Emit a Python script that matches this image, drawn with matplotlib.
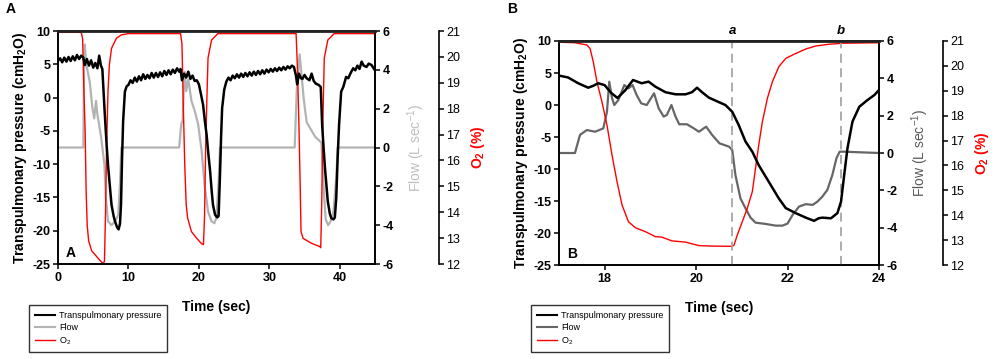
#!/usr/bin/env python3
"""Transpulmonary pressure, flow and O2 traces (panels A and B)."""

import matplotlib
matplotlib.use("Agg")
import matplotlib.pyplot as plt
from matplotlib.lines import Line2D

plt.rcParams["font.family"] = ["Liberation Sans", "DejaVu Sans"]
plt.rcParams["mathtext.fontset"] = "custom"
plt.rcParams["mathtext.rm"] = "Liberation Sans"
plt.rcParams["mathtext.bf"] = "Liberation Sans:bold"
plt.rcParams["mathtext.it"] = "Liberation Sans:italic"
plt.rcParams["axes.unicode_minus"] = False

# ---- Panel A data (time in sec) ----
pa_time = [0.0, 0.3, 0.6, 0.9, 1.2, 1.5, 1.8, 2.1, 2.4, 2.7, 3.0, 3.3, 3.6, 3.8,
           4.1, 4.4, 4.7, 5.0, 5.3, 5.6, 5.85, 6.1, 6.3, 6.6, 6.9, 7.1, 7.4, 7.6,
           7.9, 8.1, 8.4, 8.6, 8.8, 8.95, 9.1, 9.25, 9.5, 9.75, 10.0, 10.3, 10.6,
           10.9, 11.2, 11.5, 11.8, 12.1, 12.4, 12.7, 13.0, 13.3, 13.6, 13.9, 14.2,
           14.5, 14.8, 15.1, 15.4, 15.7, 16.0, 16.3, 16.6, 16.9, 17.2, 17.4, 17.6,
           17.9, 18.2, 18.5, 18.8, 19.1, 19.4, 19.7, 20.0, 20.3, 20.6, 20.85, 21.1,
           21.35, 21.6, 21.8, 22.0, 22.3, 22.6, 22.8, 23.0, 23.15, 23.3, 23.6, 23.9,
           24.2, 24.5, 24.8, 25.1, 25.4, 25.7, 26.0, 26.3, 26.6, 26.9, 27.2, 27.5,
           27.8, 28.1, 28.4, 28.7, 29.0, 29.3, 29.6, 29.9, 30.2, 30.5, 30.8, 31.1,
           31.4, 31.7, 32.0, 32.3, 32.6, 32.9, 33.2, 33.5, 33.8, 33.95, 34.2, 34.5,
           34.7, 35.0, 35.3, 35.7, 36.0, 36.3, 36.6, 37.0, 37.3, 37.5, 37.7, 37.9,
           38.1, 38.3, 38.6, 38.8, 39.1, 39.3, 39.5, 39.7, 39.9, 40.2, 40.5, 40.9,
           41.2, 41.5, 41.9, 42.2, 42.5, 42.8, 43.1, 43.4, 43.8, 44.1, 44.5, 44.8,
           45.0]
pa_pressure = [5.5, 5.9, 5.3, 6.0, 5.4, 6.1, 5.5, 6.2, 5.6, 6.4, 5.8, 6.3, 6.0, 4.9,
               5.8, 4.8, 5.6, 4.5, 5.2, 4.4, 6.3, 4.8, 4.3, -1.6, -7.0, -10.1, -13.8,
               -16.1, -17.8, -18.6, -19.5, -19.8, -19.0, -16.0, -9.0, -3.5, 0.9, 1.7,
               1.9, 2.6, 2.2, 3.0, 2.4, 3.2, 2.6, 3.5, 2.8, 3.4, 2.9, 3.7, 3.0, 3.7,
               3.1, 3.8, 3.2, 4.0, 3.4, 4.1, 3.5, 4.2, 3.7, 4.4, 3.9, 4.3, 2.6, 3.6,
               3.0, 3.9, 2.8, 3.3, 2.5, 2.6, 2.0, 0.5, -1.1, -3.5, -5.6, -8.5, -11.1,
               -13.8, -16.1, -17.6, -18.0, -17.8, -11.6, -6.0, -1.6, 1.2, 2.4, 3.0,
               2.6, 3.3, 2.9, 3.5, 3.0, 3.6, 3.1, 3.7, 3.2, 3.8, 3.3, 3.9, 3.4, 4.0,
               3.5, 4.1, 3.6, 4.2, 3.8, 4.3, 3.9, 4.4, 4.0, 4.5, 4.1, 4.6, 4.2, 4.7,
               4.4, 4.8, 4.6, 3.2, 2.0, 3.6, 2.9, 2.8, 3.4, 2.9, 2.6, 3.6, 2.5, 2.1,
               1.9, 1.6, -4.1, -7.5, -10.6, -13.2, -15.6, -17.5, -18.1, -18.3, -18.0,
               -15.1, -9.0, -4.1, 0.9, 1.6, 3.1, 2.9, 3.6, 4.4, 4.1, 4.8, 4.3, 5.4,
               4.8, 4.6, 5.1, 4.9, 4.4, 4.1]

fa_time = [0.0, 3.6, 3.7, 3.8, 4.0, 4.5, 4.9, 5.15, 5.4, 5.6, 6.1, 6.6, 6.8, 7.1,
           7.6, 8.1, 8.55, 8.8, 9.0, 17.2, 17.5, 17.7, 17.9, 18.0, 18.2, 18.5, 18.95,
           19.4, 19.9, 20.4, 20.8, 21.3, 21.8, 22.2, 22.5, 22.8, 23.0, 33.6, 33.9,
           34.3, 34.9, 35.3, 36.5, 37.4, 37.7, 38.0, 38.35, 38.7, 39.1, 39.5, 39.7,
           45.0]
fa_flow = [0.0, 0.0, 4.0, 5.3, 4.3, 3.4, 2.0, 1.5, 2.4, 1.7, 0.6, -0.9, -2.6, -3.8,
           -4.0, -3.8, -3.5, -1.9, 0.0, 0.0, 1.2, 1.4, 3.4, 3.9, 2.9, 3.5, 2.4, 1.9,
           1.2, -0.2, -1.9, -3.3, -3.8, -3.9, -3.6, -1.8, 0.0, 0.0, 3.0, 4.8, 2.45,
           1.3, 0.56, 0.25, -2.0, -3.7, -4.0, -3.8, -3.3, -1.6, 0.0, 0.0]

oa_time = [0.0, 3.3, 3.5, 3.7, 3.85, 4.0, 4.15, 4.35, 4.8, 5.3, 5.7, 6.1, 6.4, 6.6,
           6.75, 6.9, 7.1, 7.3, 7.6, 8.3, 9.0, 10.0, 17.4, 17.6, 17.8, 18.0, 18.2,
           18.4, 18.95, 19.7, 20.4, 20.65, 20.8, 20.95, 21.1, 21.3, 21.8, 22.7, 33.8,
           34.0, 34.2, 34.4, 34.5, 34.8, 36.0, 37.1, 37.3, 37.45, 37.6, 37.8, 38.3,
           39.2, 45.0]
oa_o2 = [20.95, 20.95, 20.7, 18.5, 17.2, 14.8, 13.5, 12.9, 12.5, 12.35, 12.22, 12.1,
         12.02, 12.1, 14.0, 16.5, 18.66, 19.7, 20.33, 20.72, 20.85, 20.9, 20.9, 20.5,
         18.0, 15.8, 14.3, 13.78, 13.25, 12.99, 12.78, 12.75, 13.8, 16.3, 18.0, 19.96,
         20.65, 20.9, 20.9, 19.5, 17.4, 14.8, 13.25, 12.99, 12.8, 12.68, 12.63, 14.5,
         17.5, 19.96, 20.65, 20.9, 20.9]

# ---- Panel B data (zoom on one breath) ----
pb_time = [17.0, 17.2, 17.42, 17.64, 17.75, 17.86, 18.0, 18.14, 18.28, 18.45, 18.62,
           18.81, 18.96, 19.11, 19.33, 19.55, 19.77, 19.91, 20.02, 20.13, 20.28, 20.45,
           20.64, 20.79, 20.93, 21.08, 21.23, 21.37, 21.59, 21.81, 21.96, 22.18, 22.4,
           22.58, 22.68, 22.76, 22.95, 23.09, 23.17, 23.24, 23.31, 23.42, 23.57, 23.75,
           23.9, 24.0]
pb_pressure = [4.6, 4.3, 3.4, 2.7, 3.0, 3.4, 3.1, 1.9, 1.1, 2.3, 3.9, 3.4, 3.65, 2.86,
               2.0, 1.67, 1.67, 2.0, 2.7, 2.0, 1.15, 0.6, 0.0, -1.05, -3.1, -5.7, -7.3,
               -9.4, -12.0, -14.6, -16.1, -16.9, -17.6, -18.1, -17.7, -17.6, -17.7,
               -16.9, -15.1, -10.9, -6.8, -2.6, -0.27, 0.78, 1.56, 2.34]

fb_time = [17.0, 17.35, 17.46, 17.61, 17.79, 17.97, 18.05, 18.1, 18.16, 18.21, 18.3,
           18.43, 18.52, 18.61, 18.7, 18.8, 18.92, 19.08, 19.18, 19.29, 19.36, 19.46,
           19.55, 19.63, 19.8, 19.95, 20.06, 20.22, 20.35, 20.51, 20.72, 20.79, 20.86,
           20.97, 21.08, 21.19, 21.3, 21.52, 21.74, 21.89, 22.0, 22.11, 22.25, 22.4,
           22.55, 22.65, 22.76, 22.87, 22.98, 23.07, 23.14, 23.24, 24.0]
fb_flow = [0.0, 0.0, 0.97, 1.23, 1.14, 1.32, 2.21, 3.82, 2.95, 2.57, 2.84, 3.64, 3.46,
           3.64, 3.1, 2.66, 2.57, 3.2, 2.4, 1.95, 2.04, 2.57, 1.95, 1.54, 1.54, 1.32,
           1.14, 1.41, 0.97, 0.52, 0.34, 0.16, -1.18, -2.43, -2.96, -3.46, -3.73,
           -3.8, -3.89, -3.89, -3.78, -3.32, -2.87, -2.74, -2.78, -2.61, -2.34, -1.98,
           -1.18, -0.28, 0.07, 0.07, 0.0]

ob_time = [17.0, 17.35, 17.61, 17.68, 17.75, 17.83, 17.94, 18.05, 18.16, 18.27, 18.38,
           18.52, 18.67, 18.89, 19.11, 19.25, 19.47, 19.77, 20.06, 20.35, 20.79, 20.83,
           20.9, 21.01, 21.12, 21.23, 21.3, 21.37, 21.45, 21.56, 21.67, 21.81, 21.96,
           22.18, 22.4, 22.62, 22.91, 23.2, 24.0]
ob_o2 = [20.95, 20.93, 20.84, 20.7, 20.17, 19.37, 18.56, 17.63, 16.42, 15.35, 14.41,
         13.74, 13.5, 13.34, 13.14, 13.12, 12.97, 12.92, 12.78, 12.76, 12.75, 12.8,
         13.2, 13.74, 14.28, 14.95, 15.89, 16.82, 17.76, 18.7, 19.37, 19.97, 20.3,
         20.5, 20.68, 20.8, 20.87, 20.91, 20.93]

event_times = [20.79, 23.17]
event_labels = ["a", "b"]

PRESSURE_LABEL = r"Transpulmonary pressure (cmH$_\mathbf{2}$O)"
FLOW_LABEL = r"Flow (L sec$^{-1}$)"
O2_LABEL = r"O$_\mathbf{2}$ (%)"


def style_panel(ax, ax_flow, ax_o2, xlim, xticks, flow_label_color):
    ax.set_xlim(*xlim)
    ax.set_xticks(xticks)
    ax.set_ylim(-25, 10)
    ax.set_yticks(range(-25, 11, 5))
    ax_flow.set_ylim(-6, 6)
    ax_flow.set_yticks(range(-6, 7, 2))
    ax_o2.set_ylim(12, 21)
    ax_o2.set_yticks(range(12, 22))

    for a in (ax, ax_flow, ax_o2):
        a.tick_params(labelsize=9, width=1.1, length=3.5, pad=2)
        for lab in a.get_xticklabels() + a.get_yticklabels():
            lab.set_fontweight("bold")
        for s in a.spines.values():
            s.set_linewidth(1.2)

    ax.spines["top"].set_linewidth(2.0)
    ax.spines["top"].set_color("#222222")
    # 64 px outward at 100 dpi
    ax_o2.spines["right"].set_position(("outward", 46))
    for side in ("top", "left", "bottom"):
        ax_o2.spines[side].set_visible(False)

    ax.set_xlabel("Time (sec)", fontsize=10, fontweight="bold", labelpad=12)
    ax.set_ylabel(PRESSURE_LABEL, fontsize=10, fontweight="bold", labelpad=2)
    ax_flow.set_ylabel(FLOW_LABEL, fontsize=10, color=flow_label_color, labelpad=8)
    ax_o2.set_ylabel(O2_LABEL, fontsize=10, fontweight="bold", color="#ff0000", labelpad=6)

    # pressure trace drawn above the twin axes
    ax.set_zorder(ax_o2.get_zorder() + 2)
    ax.patch.set_visible(False)


def add_legend(fig, x0, flow_color):
    handles = [
        Line2D([], [], color="black", lw=1.5),
        Line2D([], [], color=flow_color, lw=1.5),
        Line2D([], [], color="#ff0000", lw=1.0),
    ]
    labels = ["Transpulmonary pressure", "Flow", r"O$_2$"]
    leg = fig.legend(handles, labels, loc="upper left", bbox_to_anchor=(x0, 0.162),
                     fontsize=6.5, handlelength=2.2, handletextpad=0.5,
                     labelspacing=0.35, borderpad=0.6, frameon=True, fancybox=False)
    leg.get_frame().set_edgecolor("black")
    leg.get_frame().set_linewidth(1.0)
    return leg


fig = plt.figure(figsize=(9.96, 3.59), dpi=100)

# ---- Panel A ----
axA = fig.add_axes([0.0582, 0.2646, 0.3183, 0.649])
axA_flow = axA.twinx()
axA_o2 = axA.twinx()
flowA_color = "#b3b3b3"
axA_o2.plot(oa_time, oa_o2, color="#ff0000", lw=1.0)
axA_flow.plot(fa_time, fa_flow, color=flowA_color, lw=1.6)
axA.plot(pa_time, pa_pressure, color="black", lw=1.8)
style_panel(axA, axA_flow, axA_o2, (0, 45), [0, 10, 20, 30, 40], "#bfbfbf")
axA.text(0.025, 0.03, "A", transform=axA.transAxes, fontsize=10, fontweight="bold")
fig.text(0.006, 0.965, "A", fontsize=10, fontweight="bold")
add_legend(fig, 0.025, flowA_color)

# ---- Panel B ----
axB = fig.add_axes([0.5612, 0.2618, 0.3213, 0.624])
axB_flow = axB.twinx()
axB_o2 = axB.twinx()
flowB_color = "#666666"
axB_o2.plot(ob_time, ob_o2, color="#ff0000", lw=1.0)
axB_flow.plot(fb_time, fb_flow, color=flowB_color, lw=1.6)
axB.plot(pb_time, pb_pressure, color="black", lw=1.8)
for t, lab in zip(event_times, event_labels):
    axB.plot([t, t], [-25, 10], color="#a6a6a6", lw=1.3, ls=(0, (5, 3)),
             zorder=0.5, clip_on=True)
    axB.text(t, 10.6, lab, ha="center", va="bottom", fontsize=9.5,
             fontweight="bold", fontstyle="italic")
style_panel(axB, axB_flow, axB_o2, (17, 24), [18, 20, 22, 24], "#595959")
axB.text(0.025, 0.03, "B", transform=axB.transAxes, fontsize=10, fontweight="bold")
fig.text(0.509, 0.965, "B", fontsize=10, fontweight="bold")
add_legend(fig, 0.529, flowB_color)

fig.savefig("out.png", dpi=100)
